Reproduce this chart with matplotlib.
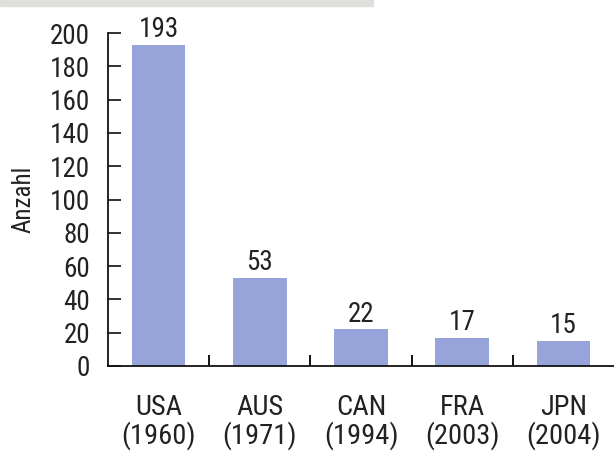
import matplotlib.pyplot as plt
from matplotlib.patches import Rectangle

# Data
countries = ["USA", "AUS", "CAN", "FRA", "JPN"]
years = ["1960", "1971", "1994", "2003", "2004"]
counts = [193, 53, 22, 17, 15]

bar_color = "#97a4d9"
text_color = "#222222"
plt.rcParams['font.family'] = ['Roboto Condensed', 'DejaVu Sans']

fig = plt.figure(figsize=(6.14, 4.51), dpi=100)
ax = fig.add_axes([108 / 614, 85 / 451, 1 - 108 / 614, 333 / 451])

# gray band at top of the figure
fig.patches.append(Rectangle((0, 1 - 6 / 451), 373 / 614, 6 / 451,
                             transform=fig.transFigure, color="#e0dfdc", zorder=0))

x = list(range(len(countries)))
bars = ax.bar(x, counts, width=0.53, color=bar_color, zorder=2)
for xi, v in zip(x, counts):
    ax.text(xi, v + 1, str(v), ha="center", va="bottom", fontsize=19.5, color=text_color)

ax.set_xlim(-0.5, len(countries) - 0.5)
ax.set_ylim(0, 200)
ax.set_yticks(range(0, 201, 20))
ax.tick_params(axis="y", direction="in", length=9, width=1.3, labelsize=19.5,
               colors=text_color, pad=13)

# category separators on x axis
ax.set_xticks([i + 0.5 for i in x[:-1]])
ax.set_xticklabels([])
ax.tick_params(axis="x", direction="in", length=8, width=1.3)
for xi, c, yr in zip(x, countries, years):
    ax.text(xi, -0.085, f"{c}\n({yr})", transform=ax.get_xaxis_transform(),
            ha="center", va="top", fontsize=20.5, color=text_color, linespacing=1.0)

ax.set_ylabel("Anzahl", fontsize=18, color=text_color, labelpad=10)

for s in ["top", "right"]:
    ax.spines[s].set_visible(False)
for s in ["left", "bottom"]:
    ax.spines[s].set_linewidth(1.3)
    ax.spines[s].set_color("#111111")

fig.savefig("out.png", dpi=100)
